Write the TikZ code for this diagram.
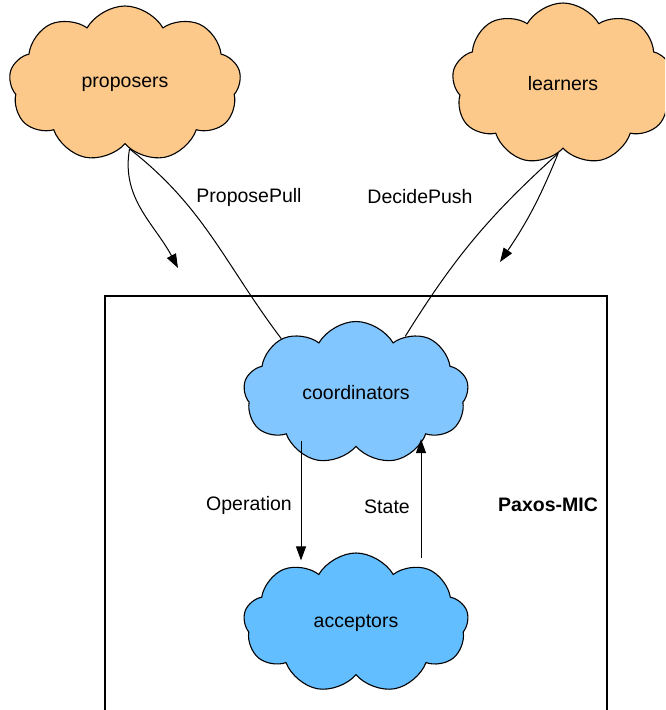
\documentclass[tikz,border=0pt]{standalone}
\usepackage{fontspec}
\setmainfont{Liberation Sans}
\usetikzlibrary{shapes.symbols, arrows.meta}

\definecolor{roleorange}{RGB}{252,201,138}
\definecolor{coordblue}{RGB}{130,198,255}
\definecolor{accblue}{RGB}{98,190,255}

\begin{document}
\begin{tikzpicture}[x=1pt, y=1pt, line width=1pt,
  every node/.style={font=\fontsize{19.5}{23}\selectfont},
  puff/.style={draw, cloud, cloud puffs=9, cloud puff arc=120, aspect=1.55, line width=1.1pt, inner sep=0pt},
  tip/.style={-{Triangle[length=14pt, width=10pt]}}]

\useasboundingbox (0,0) rectangle (665,710);
\clip (0,0) rectangle (665,710);

% Outer roles
\node[puff, fill=roleorange, minimum width=232, minimum height=156] (proposers) at (125,626) {proposers};
\node[puff, fill=roleorange, minimum width=222, minimum height=162] (learners) at (563,626) {learners};

% The Paxos-MIC box
\draw[line width=1.2pt] (105,414) rectangle (607,-30);
\node[font=\fontsize{19.5}{23}\selectfont\bfseries] (mic) at (548,205) {Paxos-MIC};

% Inner roles
\node[puff, fill=coordblue, minimum width=225, minimum height=143] (coordinators) at (356,317) {coordinators};
\node[puff, fill=accblue, minimum width=225, minimum height=140] (acceptors) at (356,87) {acceptors};

% Free ends of the outside arrows
\coordinate (pullend) at (178,442);
\coordinate (pushend) at (500,448);

% Proposers <-> coordinators
\draw[tip] (proposers.-86) to[out=-100, in=118] (pullend);
\draw (proposers.-86) to[out=-38, in=127] (coordinators.144);
\node (pull) at (249,513) {ProposePull};

% Learners <-> coordinators
\draw[tip] (learners.-94) to[bend left=6] (pushend);
\draw (learners.-94) to[bend right=8] (coordinators.49);
\node (push) at (420,513) {DecidePush};

% Coordinators <-> acceptors
\draw[tip] ([yshift=6pt]coordinators.south -| 301,0) -- ([yshift=-8pt]acceptors.north -| 301,0);
\node (op) at (249,205) {Operation};
\draw[tip] ([yshift=-6pt]acceptors.north -| 421,0) -- ([yshift=8pt]coordinators.south -| 421,0);
\node (st) at (387,203) {State};

\end{tikzpicture}
\end{document}
